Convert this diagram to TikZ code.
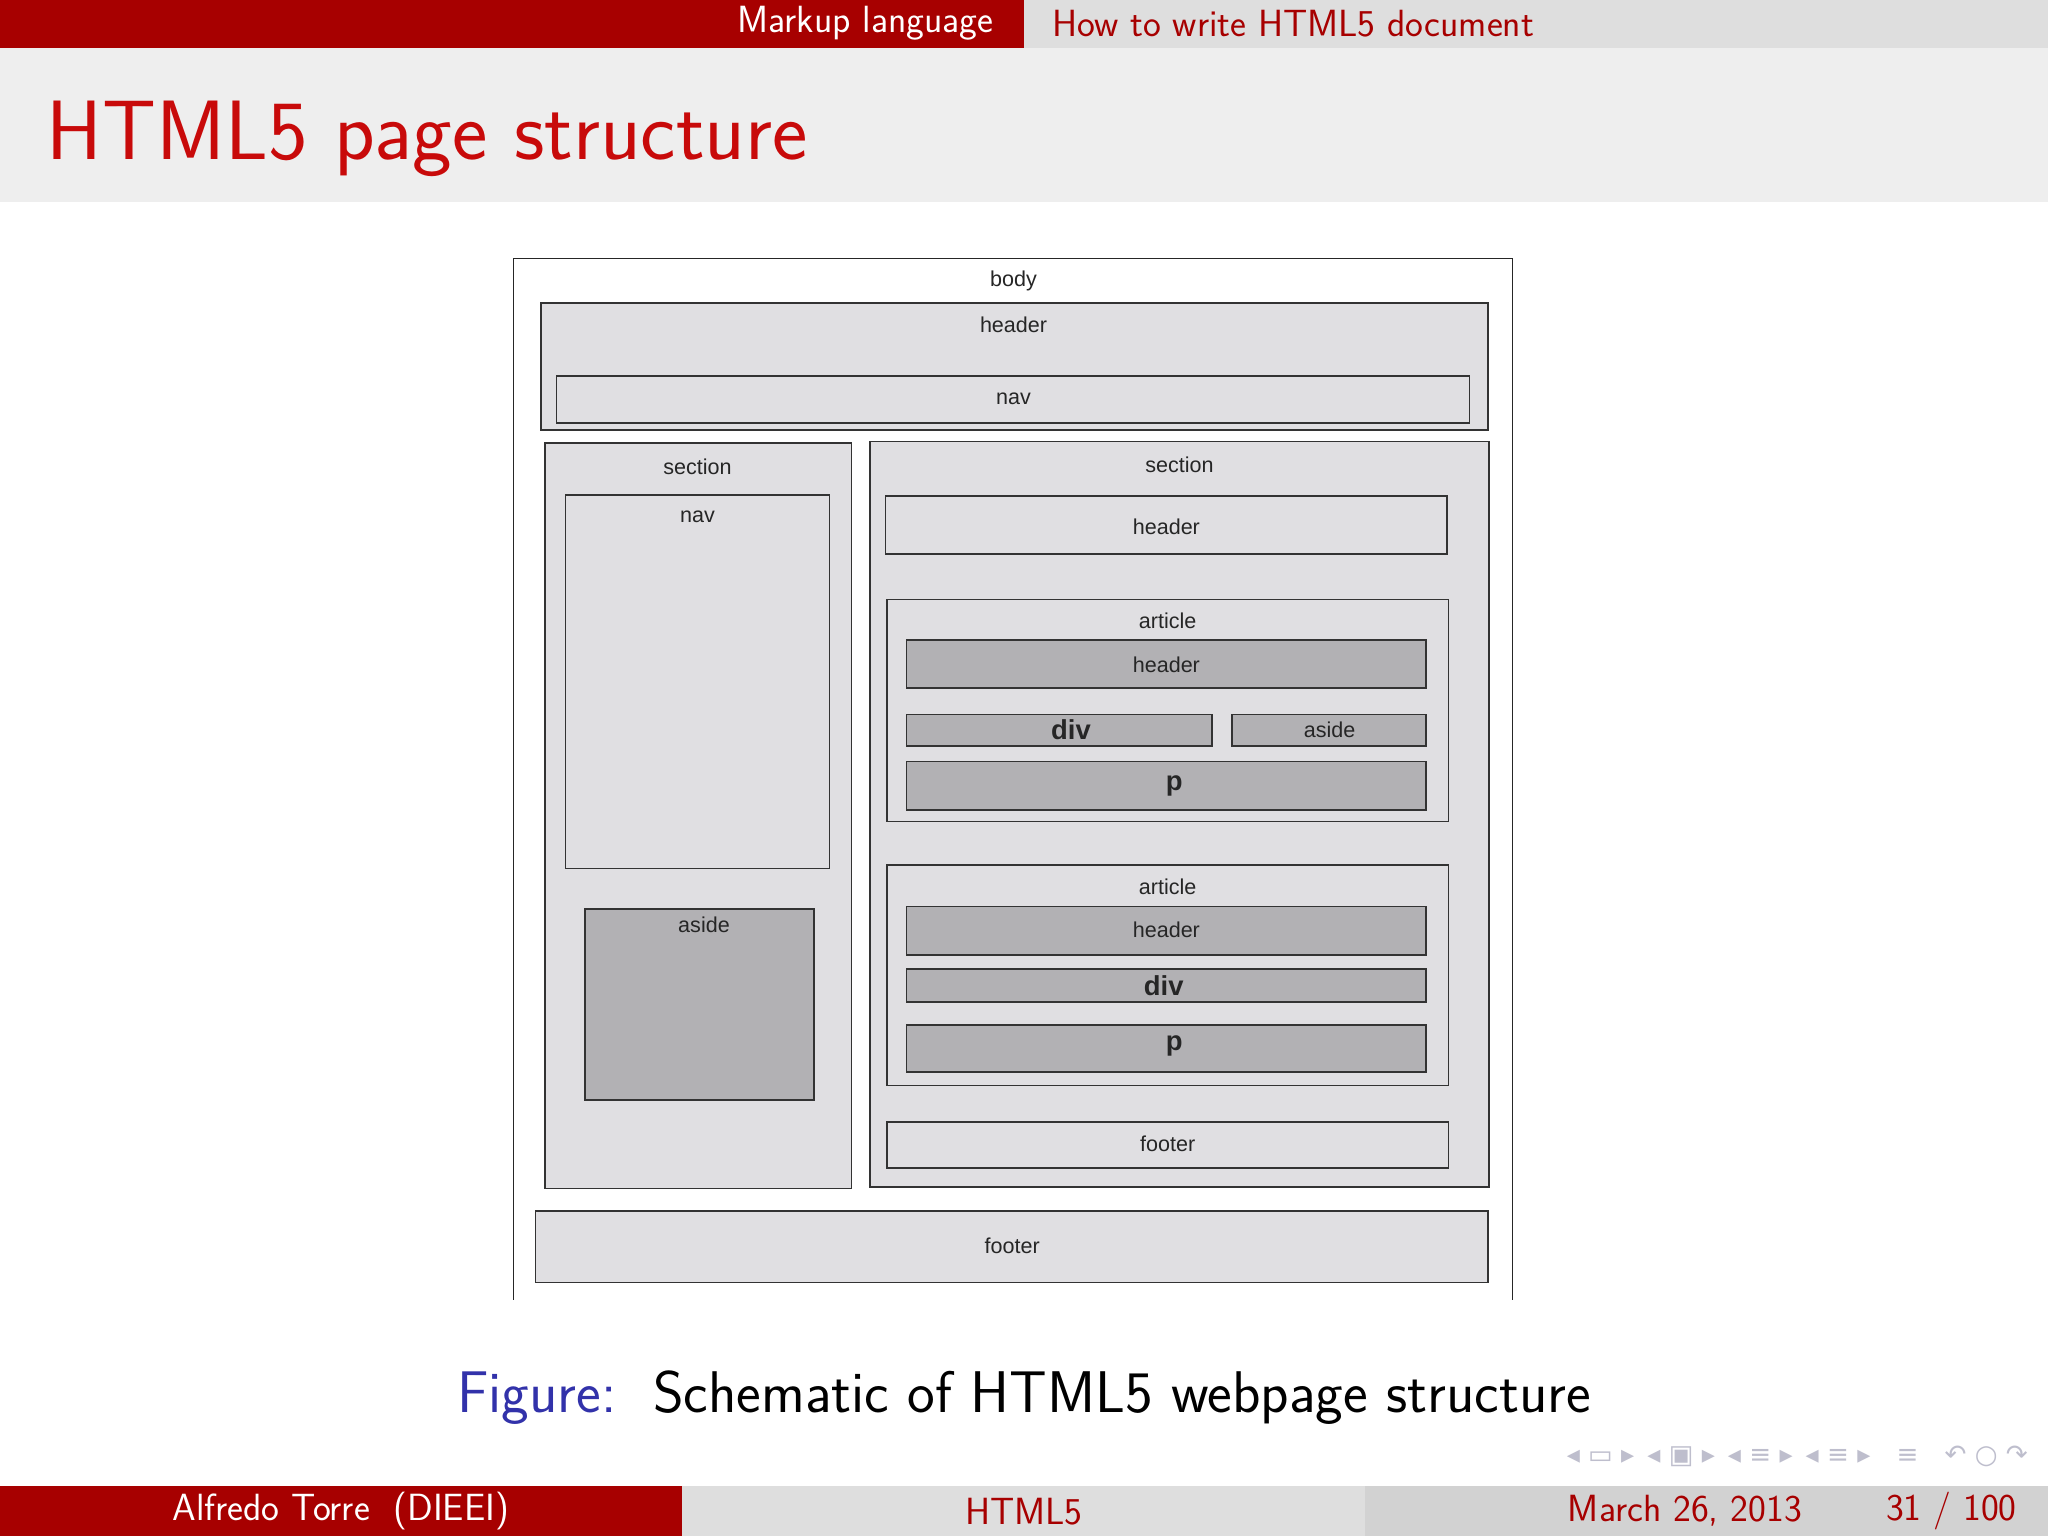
\documentclass[tikz,border=0pt]{standalone}
\usepackage{fontspec}
\newfontfamily\arial{Liberation Sans}
\newfontfamily\djvs{DejaVu Sans}
\definecolor{bred}{RGB}{167,0,0}
\definecolor{tred}{RGB}{200,10,10}
\definecolor{lg}{RGB}{238,238,238}
\definecolor{mg}{RGB}{222,222,222}
\definecolor{fg}{RGB}{210,210,210}
\definecolor{bx}{RGB}{224,223,226}
\definecolor{dbx}{RGB}{178,177,180}
\definecolor{navc}{RGB}{190,190,205}
\tikzset{
 lbox/.style={draw=black!80,line width=1.3pt,fill=bx},
 dbox/.style={draw=black!80,line width=1.3pt,fill=dbx},
 lab/.style={font=\arial\fontsize{16.5}{18}\selectfont,text=black!85},
 big/.style={font=\arial\bfseries\fontsize{21}{24}\selectfont,text=black!85},
 hf/.style={font=\sffamily\fontsize{29}{32}\selectfont}
}
\begin{document}
\begin{tikzpicture}[x=1pt,y=-1pt]
\useasboundingbox (0,0) rectangle (1568,1176);
\fill[white] (0,0) rectangle (1568,1176);
% headline
\fill[bred] (0,0) rectangle (784,37);
\fill[mg] (784,0) rectangle (1568,37);
\node[anchor=east,text=white,hf] (h1) at (764,18) {Markup language};
\node[anchor=west,text=bred,hf] (h2) at (802,18) {How to write HTML5 document};
% title band
\fill[lg] (0,37) rectangle (1568,155);
\node[anchor=west,text=tred,font=\sffamily\fontsize{64.5}{70}\selectfont] (title) at (32,106) {HTML5 page structure};
% body
\draw[black!85,line width=1.2pt] (393,995) -- (393,198) -- (1158,198) -- (1158,995);
\node[lab] (body) at (776,215) {body};
\draw[lbox] (414,232) rectangle (1139,329);
\node[lab] at (776,249) {header};
\draw[lbox] (426,288) rectangle (1125,324);
\node[lab] at (776,305) {nav};
% left section
\draw[lbox] (417,339) rectangle (652,910);
\node[lab] at (534,357) {section};
\draw[lbox] (433,379) rectangle (635,665);
\node[lab] at (534,396) {nav};
\draw[dbox] (448,696) rectangle (623,842);
\node[lab] at (539,708) {aside};
% right section
\draw[lbox] (666,338) rectangle (1140,909);
\node[lab] at (903,356) {section};
\draw[lbox] (678,380) rectangle (1108,424);
\node[lab] at (893,403) {header};
\draw[lbox] (679,459) rectangle (1109,629);
\node[lab] at (894,475) {article};
\draw[dbox] (694,490) rectangle (1092,527);
\node[lab] at (893,509) {header};
\draw[dbox] (694,547) rectangle (928,571);
\node[big] at (820,559) {div};
\draw[dbox] (943,547) rectangle (1092,571);
\node[lab] at (1018,559) {aside};
\draw[dbox] (694,583) rectangle (1092,620);
\node[big] at (899,602) {p};
\draw[lbox] (679,662) rectangle (1109,831);
\node[lab] at (894,679) {article};
\draw[dbox] (694,694) rectangle (1092,731);
\node[lab] at (893,712) {header};
\draw[dbox] (694,742) rectangle (1092,767);
\node[big] at (891,755) {div};
\draw[dbox] (694,785) rectangle (1092,821);
\node[big] at (899,801) {p};
\draw[lbox] (679,859) rectangle (1109,894);
\node[lab] at (894,876) {footer};
\draw[lbox] (410,927) rectangle (1139,982);
\node[lab] at (775,954) {footer};
% caption
\node[font=\sffamily\fontsize{45}{50}\selectfont] (cap) at (784,1070) {\textcolor[RGB]{50,50,170}{Figure:}\ \ Schematic of HTML5 webpage structure};
% nav symbols
\node[text=navc,font=\djvs\fontsize{20}{22}\selectfont,anchor=east] (navs) at (1556,1115) {◂ ▭ ▸\enspace ◂ ▣ ▸\enspace ◂ ≡ ▸\enspace ◂ ≡ ▸\quad ≡\quad ↶ ○ ↷};
% footer
\fill[bred] (0,1138) rectangle (522,1176);
\fill[mg] (522,1138) rectangle (1045,1176);
\fill[fg] (1045,1138) rectangle (1568,1176);
\node[text=white,hf] (f1) at (261,1157) {Alfredo Torre\ \ (DIEEI)};
\node[text=bred,hf] (f2) at (784,1157) {HTML5};
\node[text=bred,hf] (f3) at (1290,1157) {March 26, 2013};
\node[text=bred,hf] (f4) at (1494,1157) {31 / 100};
\end{tikzpicture}
\end{document}
